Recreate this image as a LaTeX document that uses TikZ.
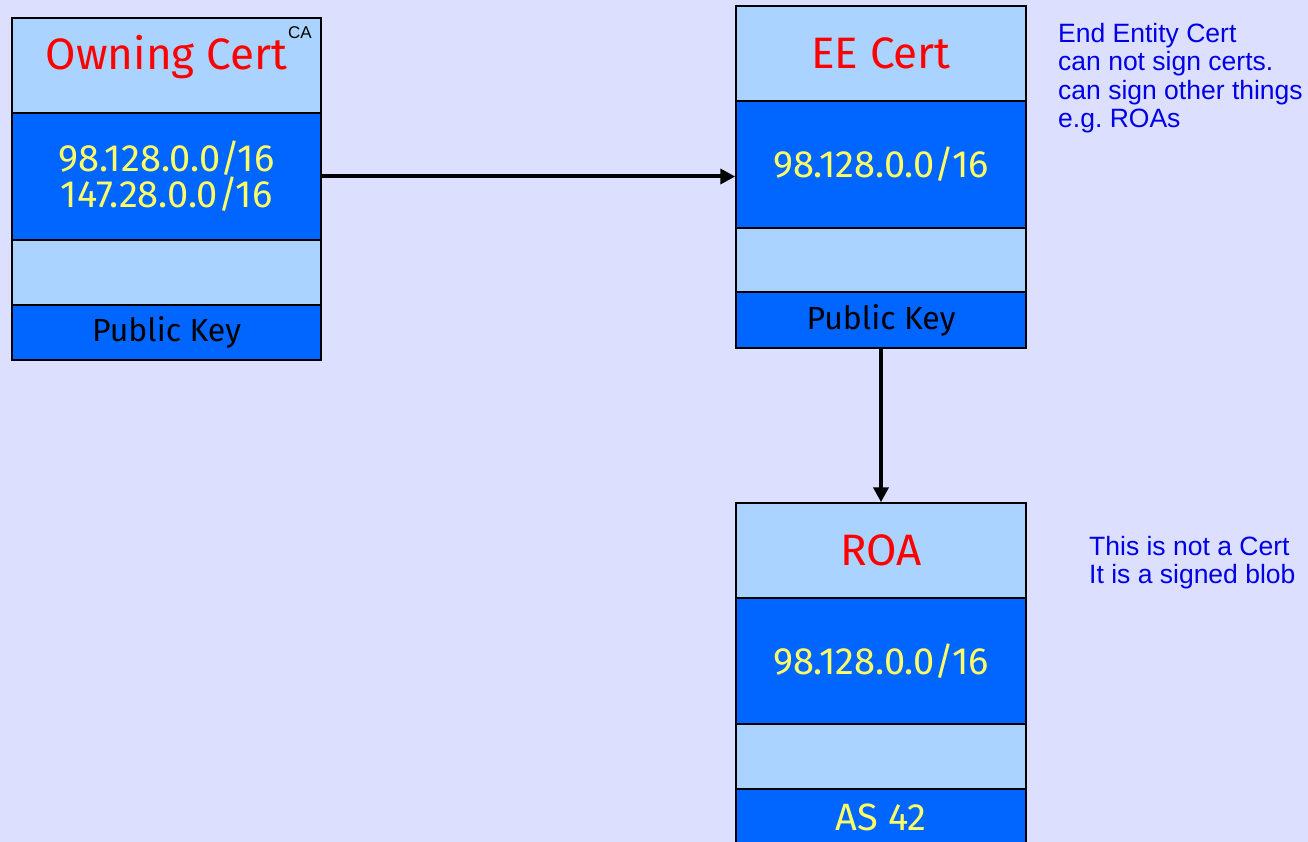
\documentclass[tikz,border=0pt]{standalone}
\usepackage{fontspec}
\setmainfont{Fira Sans}
\newfontfamily\annfont{Liberation Sans}
\usetikzlibrary{arrows.meta}
\frenchspacing
\definecolor{bgc}{RGB}{221,223,255}
\definecolor{lightb}{RGB}{170,212,255}
\definecolor{darkb}{RGB}{0,102,255}
\definecolor{yel}{RGB}{255,255,102}
\definecolor{ann}{RGB}{0,0,230}
\tikzset{
  sect/.style={draw=black, line width=1.5pt, inner sep=0pt, anchor=center},
  lsect/.style={sect, fill=lightb},
  dsect/.style={sect, fill=darkb},
  ttl/.style={text=red, font=\fontsize{44}{48}\selectfont},
  ips/.style={text=yel, font=\fontsize{38}{36}\selectfont, align=center},
  keyt/.style={text=black, font=\fontsize{32}{34}\selectfont},
  annt/.style={text=ann, font=\annfont\fontsize{26.5}{28.5}\selectfont, align=left, inner sep=0pt, anchor=north west},
  conn/.style={line width=4pt, -{Triangle[length=15pt,width=15pt]}}
}
\begin{document}
\begin{tikzpicture}[x=1pt,y=-1pt]
\fill[bgc] (0,0) rectangle (1308,842);
\useasboundingbox (0,0) rectangle (1308,842);
\clip (0,0) rectangle (1308,842);
% Owning Cert
\node[lsect, minimum width=309pt, minimum height=95pt] (a1) at (166.5,65.5) {};
\node[ttl] (a1t) at (166.5,57) {Owning Cert};
\node[font=\annfont\fontsize{17}{18}\selectfont, inner sep=0pt] (ca) at (300,33) {CA};
\node[dsect, minimum width=309pt, minimum height=127pt, ips] (a2) at (166.5,176.5) {98.128.0.0/16\\147.28.0.0/16};
\node[lsect, minimum width=309pt, minimum height=65pt] (a3) at (166.5,272.5) {};
\node[dsect, minimum width=309pt, minimum height=55pt, keyt] (a4) at (166.5,332.5) {Public Key};
% EE Cert
\node[lsect, minimum width=290pt, minimum height=95pt, ttl] (b1) at (881,53.5) {EE Cert};
\node[dsect, minimum width=290pt, minimum height=127pt, ips] (b2) at (881,164.5) {98.128.0.0/16};
\node[lsect, minimum width=290pt, minimum height=64pt] (b3) at (881,260) {};
\node[dsect, minimum width=290pt, minimum height=56pt, keyt] (b4) at (881,320) {Public Key};
% ROA
\node[lsect, minimum width=290pt, minimum height=95pt, ttl] (c1) at (881,550.5) {ROA};
\node[dsect, minimum width=290pt, minimum height=126pt, ips] (c2) at (881,661) {98.128.0.0/16};
\node[lsect, minimum width=290pt, minimum height=65pt] (c3) at (881,756.5) {};
\node[dsect, minimum width=290pt, minimum height=57pt, ips] (c4) at (881,817.5) {AS 42};
% annotations
\node[annt] (n1) at (1058,23) {End Entity Cert\\can not sign certs.\\can sign other things\\e.g. ROAs};
\node[annt] (n2) at (1089,536) {This is not a Cert\\It is a signed blob};
% connectors
\draw[conn] (a2.east) -- (b2.west |- a2.east);
\draw[conn] (b4.south) -- (c1.north);
\end{tikzpicture}
\end{document}
